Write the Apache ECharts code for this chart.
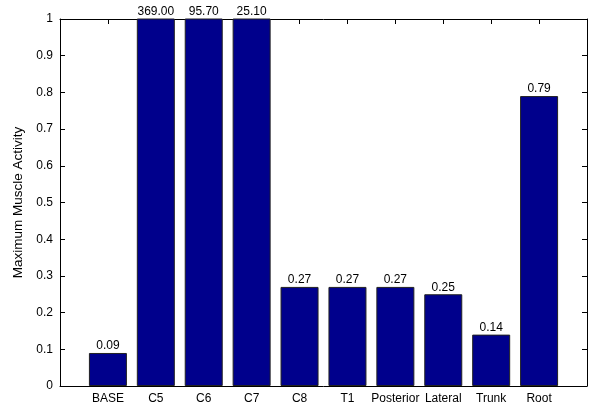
<!DOCTYPE html>
<html><head><meta charset="utf-8">
<script src="https://cdn.jsdelivr.net/npm/echarts@6/dist/echarts.min.js"></script>
<style>html,body{margin:0;padding:0;background:#fff}#c{width:600px;height:409px}</style>
</head><body><div id="c"></div>
<script>
const categories = ['BASE','C5','C6','C7','C8','T1','Posterior','Lateral','Trunk','Root'];
const values = [0.09, 369.00, 95.70, 25.10, 0.27, 0.27, 0.27, 0.25, 0.14, 0.79];
const yTicks = [0,0.1,0.2,0.3,0.4,0.5,0.6,0.7,0.8,0.9,1];

const font = 'Liberation Sans, Arial, Helvetica, sans-serif';
const chart = echarts.init(document.getElementById('c'));
const axisLine = {show:true, onZero:false, lineStyle:{color:'#000', width:1}};
const tick = {show:true, inside:true, length:5, lineStyle:{color:'#000'}};
chart.setOption({
  animation:false,
  grid:{left:60, right:13, top:19, bottom:23},
  xAxis:[{
    type:'value', min:0, max:categories.length+1, interval:1,
    axisLine:axisLine, axisTick:tick, splitLine:{show:false},
    axisLabel:{color:'#000', fontFamily:font, fontSize:12, margin:7,
      formatter:v => (v>=1 && v<=categories.length) ? categories[v-1] : ''}
  },{
    type:'value', position:'top', min:0, max:categories.length+1, interval:1,
    axisLine:axisLine, axisTick:tick, splitLine:{show:false}, axisLabel:{show:false}
  }],
  yAxis:[{
    type:'value', min:yTicks[0], max:yTicks[yTicks.length-1], interval:0.1,
    name:'Maximum Muscle Activity', nameLocation:'middle', nameGap:33,
    nameTextStyle:{color:'#000', fontFamily:font, fontSize:13.5},
    axisLine:axisLine, axisTick:tick, splitLine:{show:false},
    axisLabel:{color:'#000', fontFamily:font, fontSize:12, margin:7,
      formatter:v => String(Math.round(v*10)/10)}
  },{
    type:'value', position:'right', min:0, max:1, interval:0.1,
    axisLine:axisLine, axisTick:tick, splitLine:{show:false}, axisLabel:{show:false}
  }],
  series:[{
    type:'bar', xAxisIndex:0, yAxisIndex:0,
    barWidth:38, clip:true,
    data: values.map((v,i)=>({value:[i+1, v]})),
    itemStyle:{color:'#00008C', borderColor:'#222', borderWidth:1},
    label:{show:true, position:'top', distance:1, color:'#000', fontFamily:font, fontSize:12,
      formatter:p => p.value[1].toFixed(2)}
  }]
});
</script></body></html>
